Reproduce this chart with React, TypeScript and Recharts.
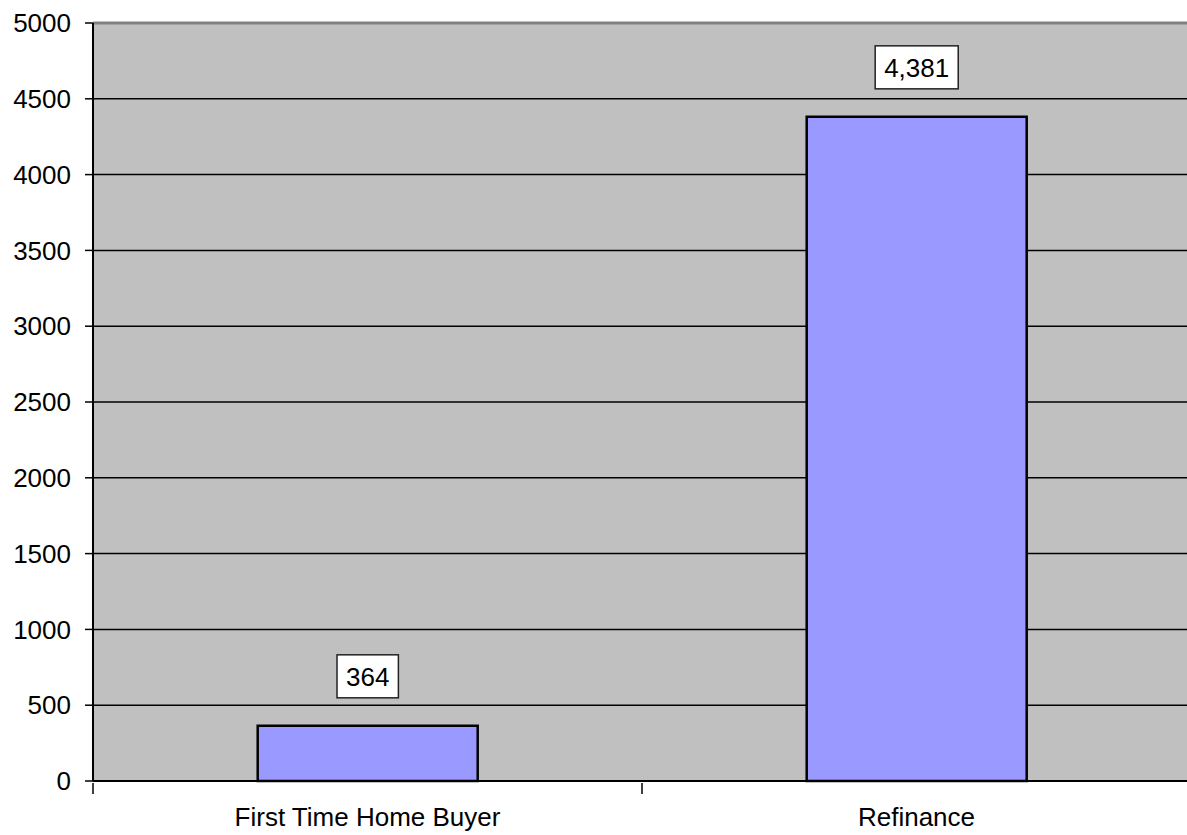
import { BarChart, Bar, XAxis, YAxis, CartesianGrid, LabelList, ReferenceLine } from 'recharts'

const categories = ['First Time Home Buyer', 'Refinance']
const loans = [364, 4381]
const yTicks = [0, 500, 1000, 1500, 2000, 2500, 3000, 3500, 4000, 4500, 5000]

const data = categories.map((name, i) => ({ name, loans: loans[i] }))

const FONT = '"Liberation Sans", Arial, sans-serif'
const FS = 26

const textWidth = (s: string) =>
  s.split('').reduce((w, ch) => w + (ch === ',' ? 0.278 : 0.556) * FS, 0)

function CategoryTick(props: any) {
  const { x, y, payload } = props
  const half = payload?.offset ?? 0
  return (
    <g>
      <line x1={x - half} x2={x - half} y1={y - 11} y2={y} stroke='#000' strokeWidth={1.5} />
      <text
        x={x}
        y={y + 23}
        textAnchor='middle'
        dominantBaseline='central'
        fontFamily={FONT}
        fontSize={FS}
        fill='#000'
      >
        {payload.value}
      </text>
    </g>
  )
}

function ValueLabel(props: any) {
  const { x, y, width, value } = props
  const text = Number(value).toLocaleString('en-US')
  const w = textWidth(text) + 18
  const h = 43
  const cx = x + width / 2
  const bottom = y - 28
  return (
    <g>
      <rect x={cx - w / 2} y={bottom - h} width={w} height={h} fill='#fff' stroke='#222' strokeWidth={1.5} />
      <text
        x={cx}
        y={bottom - h / 2 + 1}
        textAnchor='middle'
        dominantBaseline='central'
        fontFamily={FONT}
        fontSize={FS}
        fill='#000'
      >
        {text}
      </text>
    </g>
  )
}

export default function App() {
  return (
    <div style={{ position: 'absolute', left: 0, top: 0, width: 1187, height: 835, overflow: 'hidden', background: '#fff' }}>
      <BarChart
        width={1191}
        height={835}
        data={data}
        margin={{ top: 23, right: 0, bottom: 0, left: 0 }}
        barCategoryGap='30%'
      >
        <CartesianGrid
          vertical={false}
          fill='#C0C0C0'
          stroke='#000'
          strokeWidth={1.5}
          horizontalValues={yTicks.slice(0, -1)}
        />
        <ReferenceLine y={5000} stroke='#808080' strokeWidth={3} />
        <XAxis
          dataKey='name'
          height={54}
          axisLine={{ stroke: '#000', strokeWidth: 2 }}
          tickLine={false}
          tickSize={11}
          tick={<CategoryTick />}
          interval={0}
        />
        <YAxis
          width={93}
          domain={[0, 5000]}
          ticks={yTicks}
          interval={0}
          axisLine={{ stroke: '#000', strokeWidth: 2 }}
          tickLine={{ stroke: '#000', strokeWidth: 1.5 }}
          tickSize={8}
          tickMargin={14}
          tick={{ fill: '#000', fontSize: FS, fontFamily: FONT }}
        />
        <Bar dataKey='loans' fill='#9999FF' stroke='#000' strokeWidth={2.5} isAnimationActive={false}>
          <LabelList dataKey='loans' content={<ValueLabel />} />
        </Bar>
      </BarChart>
    </div>
  )
}
